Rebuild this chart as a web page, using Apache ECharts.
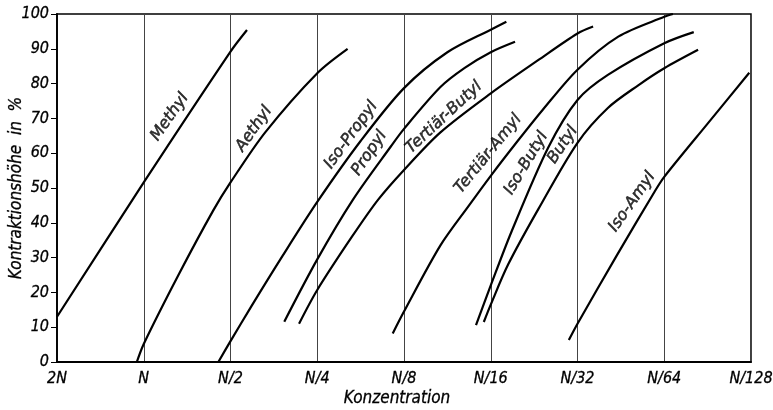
<!DOCTYPE html>
<html><head><meta charset="utf-8">
<script src="https://cdn.jsdelivr.net/npm/echarts/dist/echarts.min.js"></script>
<style>html,body{margin:0;padding:0;background:#fff}#c{width:773px;height:410px}</style>
</head><body><div id="c"></div>
<script>
// x positions: 0=2N, 1=N, 2=N/2 ... 8=N/128 (halving concentration per step)
const xTickLabels = ['2N', 'N', 'N/2', 'N/4', 'N/8', 'N/16', 'N/32', 'N/64', 'N/128'];
const yAxisTitle = 'Kontraktionshöhe  in  %';
const xAxisTitle = 'Konzentration';

const methyl = [[0, 13], [1, 51.6], [2, 89.2], [2.19, 95.4]];
const aethyl = [[0.92, 0], [1, 5.2], [1.4, 25], [1.8, 43.5], [2, 51.6], [2.4, 66], [3, 83], [3.35, 90]];
const isoPropyl = [[1.86, 0], [2, 6], [2.24, 16], [2.6, 30.5], [3, 46], [3.5, 63.5], [4, 78.7], [4.5, 89], [5, 95.5], [5.18, 97.8]];
const propyl = [[2.62, 11.6], [3, 29.5], [3.41, 46.6], [3.85, 62], [4, 67], [4.42, 79], [4.7, 84.5], [5, 89], [5.28, 92]];
const tertiaerButyl = [[2.79, 11], [3, 20.7], [3.4, 36], [3.7, 46.6], [4, 55.2], [4.42, 66], [5, 77.2], [5.55, 86.8], [6, 94.4], [6.18, 96.4]];
const tertiaerAmyl = [[3.87, 8.2], [4, 14.5], [4.42, 33.5], [4.75, 45], [5, 53.5], [5.31, 63.5], [5.6, 72.5], [6, 84], [6.47, 93.5], [7, 99.2], [7.1, 100]];
const isoButyl = [[4.83, 10.6], [5, 22], [5.24, 37.5], [5.66, 61.5], [6, 75.3], [6.35, 82.5], [7, 91.6], [7.34, 94.8]];
const butyl = [[4.92, 11.5], [5, 16.5], [5.2, 28], [5.55, 44], [6, 63], [6.35, 73], [6.7, 79.5], [7, 84.4], [7.39, 89.7]];
const isoAmyl = [[5.9, 6.3], [6, 11], [6.45, 30.5], [6.89, 49], [7, 53.2], [7.5, 68.5], [7.98, 83.1]];

const curveNames = ['Methyl', 'Aethyl', 'Iso-Propyl', 'Propyl', 'Tertiär-Butyl', 'Tertiär-Amyl', 'Iso-Butyl', 'Butyl', 'Iso-Amyl'];
const curveData = [methyl, aethyl, isoPropyl, propyl, tertiaerButyl, tertiaerAmyl, isoButyl, butyl, isoAmyl];

// label anchor (data coords) and rotation in degrees
const labelSpots = [
  [1.30, 70.4, 55], [2.27, 67, 55], [3.39, 65.2, 54], [3.60, 60, 56], [4.46, 70.3, 43],
  [4.97, 59.8, 51], [5.41, 57.1, 59], [5.83, 62.4, 56], [6.63, 46, 55]
];

const tickFont = { fontFamily: "'DejaVu Sans Condensed', 'DejaVu Sans', sans-serif", fontStyle: 'italic', fontSize: 16, color: '#000', textBorderColor: '#000', textBorderWidth: 0.3 };
const labelFont = "'DejaVu Sans', sans-serif";

const chart = echarts.init(document.getElementById('c'), null, { renderer: 'canvas' });
const series = curveData.map((d, i) => ({
  name: curveNames[i], type: 'line', data: d, smooth: 0.3, showSymbol: false, symbol: 'none',
  lineStyle: { color: '#000', width: 2.2 }, z: 3, silent: true
}));
series.push({
  type: 'scatter', symbolSize: 0, silent: true, z: 4,
  data: labelSpots.map((s, i) => ({
    value: [s[0], s[1]],
    label: { show: true, position: 'inside', formatter: curveNames[i], rotate: s[2],
      fontFamily: labelFont, fontStyle: 'italic', fontSize: 16, color: '#000',
      textBorderColor: '#000', textBorderWidth: 0.5 }
  }))
});

chart.setOption({
  animation: false,
  backgroundColor: '#fff',
  grid: { left: 57, right: 22, top: 14, bottom: 48, outerBoundsMode: 'none', containLabel: false, show: true, borderColor: '#000', borderWidth: 1.5, backgroundColor: 'transparent' },
  xAxis: {
    type: 'value', min: 0, max: 8, interval: 1,
    axisLine: { show: true, lineStyle: { color: '#000', width: 1.8 } },
    axisTick: { show: false },
    splitLine: { show: true, lineStyle: { color: '#444', width: 1 } },
    axisLabel: Object.assign({ margin: 9, formatter: v => xTickLabels[Math.round(v)] }, tickFont),
    name: xAxisTitle, nameLocation: 'middle', nameGap: 28, nameMoveOverlap: false,
    nameTextStyle: Object.assign({}, tickFont, { fontSize: 17, padding: [0, 14, 0, 0] })
  },
  yAxis: {
    type: 'value', min: 0, max: 100, interval: 10,
    axisLine: { show: true, lineStyle: { color: '#000', width: 1.8 } },
    axisTick: { show: true, length: 6, lineStyle: { color: '#000', width: 1 } },
    splitLine: { show: false },
    axisLabel: Object.assign({ margin: 8 }, tickFont),
    name: yAxisTitle, nameLocation: 'middle', nameGap: 32, nameRotate: 90, nameMoveOverlap: false,
    nameTextStyle: Object.assign({}, tickFont, { fontSize: 17 })
  },
  series: series
});
</script></body></html>
